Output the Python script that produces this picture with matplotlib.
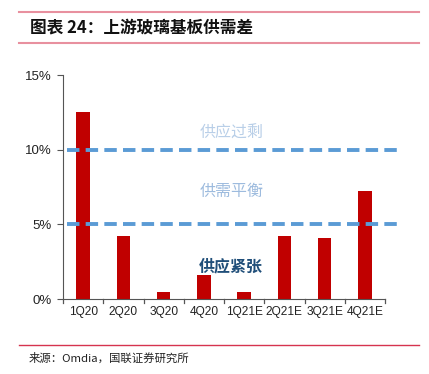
import matplotlib
matplotlib.use("Agg")
import matplotlib.pyplot as plt
from matplotlib.lines import Line2D

plt.rcParams['font.family'] = ['Liberation Sans', 'Noto Sans CJK SC', 'DejaVu Sans']

categories = ["1Q20", "2Q20", "3Q20", "4Q20", "1Q21E", "2Q21E", "3Q21E", "4Q21E"]
values = [12.5, 4.2, 0.5, 1.6, 0.5, 4.2, 4.1, 7.2]
yticks = [0, 5, 10, 15]
ytick_labels = ["0%", "5%", "10%", "15%"]
thresholds = [10, 5]
zone_labels = ["供应过剩", "供需平衡", "供应紧张"]
zone_y = [11.1, 7.2, 2.2]
zone_colors = ["#b9cfe8", "#9dbbde", "#1f4e79"]
title = "图表 24：上游玻璃基板供需差"
source = "来源：Omdia，国联证券研究所"

W, H = 429, 374
fig = plt.figure(figsize=(W / 100, H / 100), dpi=100)
ax = fig.add_axes([63 / W, 1 - 299 / H, (385 - 63) / W, (299 - 75) / H])

x = list(range(len(categories)))
ax.bar(x, values, width=0.33, color="#c00000", zorder=2)
ax.set_xlim(-0.5, len(categories) - 0.5)
ax.set_ylim(0, 15)
ax.set_yticks(yticks)
ax.set_yticklabels(ytick_labels, fontsize=9.5, color="#222222")
ax.set_xticks(x)
ax.set_xticklabels(categories, fontsize=8.6, color="#222222")
ax.tick_params(axis="x", length=0, pad=5)
ax.tick_params(axis="y", length=4, direction="out", color="#555555", pad=4)
# category boundary ticks
for b in [i - 0.5 for i in range(len(categories) + 1)]:
    ax.plot([b, b], [0, -0.25], color="#555555", lw=0.9, clip_on=False,
            transform=ax.transData)
for s in ["top", "right"]:
    ax.spines[s].set_visible(False)
ax.spines["left"].set_color("#555555")
ax.spines["bottom"].set_color("#555555")

for t in thresholds:
    ax.plot([-0.4, 7.85], [t, t], color="#5b9bd5", lw=2.8, ls=(0, (3.2, 1.6)),
            clip_on=False, zorder=3)

for lab, yy, c in zip(zone_labels, zone_y, zone_colors):
    ax.text(3.68, yy, lab, ha="center", va="center", fontsize=11.5, color=c,
            family=['Noto Sans CJK SC'], fontweight="bold" if c == "#1f4e79" else "normal")

# header lines and title
fig.add_artist(Line2D([19 / W, 419 / W], [1 - 12 / H, 1 - 12 / H], color="#e8909f", lw=1.5))
fig.add_artist(Line2D([19 / W, 419 / W], [1 - 43 / H, 1 - 43 / H], color="#e8909f", lw=1.5))
fig.text(30 / W, 1 - 28 / H, title, fontsize=12, fontweight="bold", va="center", ha="left",
         family=['Noto Sans CJK SC'], color="#111111")
fig.add_artist(Line2D([19 / W, 419 / W], [1 - 345 / H, 1 - 345 / H], color="#d6334f", lw=1.0))
fig.text(29 / W, 1 - 358 / H, source, fontsize=8.2, va="center", ha="left",
         family=['Noto Sans CJK SC', 'DejaVu Sans'], color="#222222")

fig.savefig("out.png", dpi=100)
